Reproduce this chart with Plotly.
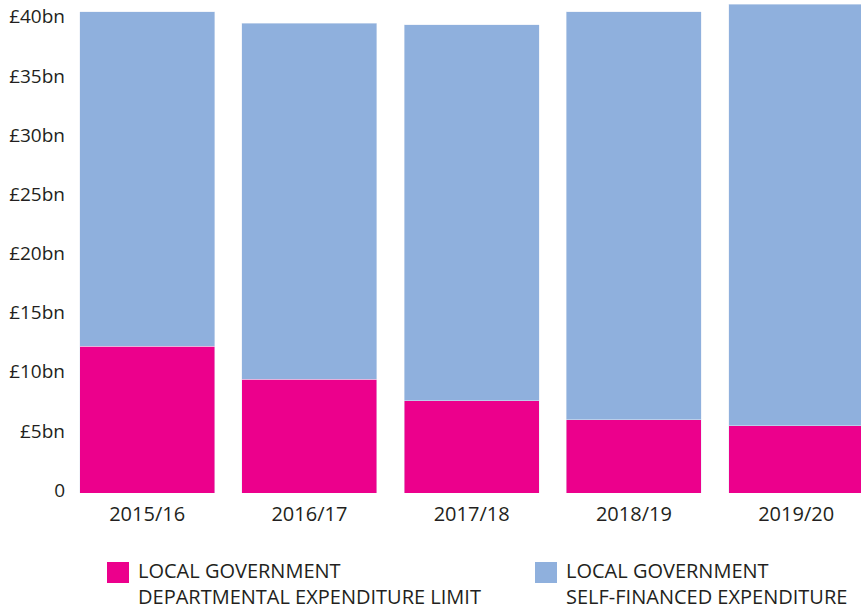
import plotly.graph_objects as go

categories = ["2015/16", "2016/17", "2017/18", "2018/19", "2019/20"]
del_values = [12.4, 9.6, 7.8, 6.2, 5.7]
self_financed_values = [28.3, 30.1, 31.8, 34.5, 35.6]
tick_values = [0, 5, 10, 15, 20, 25, 30, 35, 40]
tick_labels = ["0", "£5bn", "£10bn", "£15bn", "£20bn", "£25bn", "£30bn", "£35bn", "£40bn"]
series_names = ["LOCAL GOVERNMENT<br>DEPARTMENTAL EXPENDITURE LIMIT",
                "LOCAL GOVERNMENT<br>SELF-FINANCED EXPENDITURE"]

PINK = "#EC008C"
BLUE = "#8FB0DD"
TEXT = "#231F20"
FONT = "Open Sans"

fig = go.Figure()
fig.add_trace(go.Bar(x=categories, y=del_values, marker_color=PINK,
                     name=series_names[0], showlegend=False))
fig.add_trace(go.Bar(x=categories, y=self_financed_values, marker_color=BLUE,
                     name=series_names[1], showlegend=False))

W, H = 861, 611
ML, MR, MT, MB = 66, 0, 0, 118
pw = W - ML - MR
ph = H - MT - MB

def px_x(p):
    return (p - ML) / pw

def px_y(p):
    return (H - MB - p) / ph

# custom legend
swatches = [(107, 129, PINK), (535, 557, BLUE)]
text_x = [137, 565]
shapes = []
annotations = []
for (x0, x1, col), tx, name in zip(swatches, text_x, series_names):
    shapes.append(dict(type="rect", xref="paper", yref="paper",
                       x0=px_x(x0), x1=px_x(x1), y0=px_y(583), y1=px_y(562),
                       fillcolor=col, line=dict(width=0)))
    annotations.append(dict(xref="paper", yref="paper", x=px_x(tx), y=px_y(556),
                            xanchor="left", yanchor="top", align="left", text=name,
                            showarrow=False, borderpad=0,
                            font=dict(family=FONT, size=20, color=TEXT)))

fig.update_layout(
    barmode="stack",
    bargap=0.168,
    width=W, height=H,
    margin=dict(l=ML, r=MR, t=MT, b=MB, pad=0),
    plot_bgcolor="white", paper_bgcolor="white",
    font=dict(family=FONT, size=19, color=TEXT),
    shapes=shapes,
    annotations=annotations,
    xaxis=dict(range=[-0.5, -0.5 + pw / 162.25], showgrid=False, zeroline=False,
               showline=False, ticks="", ticklabelstandoff=7,
               tickfont=dict(family=FONT, size=20, color=TEXT)),
    yaxis=dict(range=[0, ph / 11.83], tickvals=tick_values, ticktext=tick_labels,
               showgrid=False, zeroline=False, showline=False, ticks="",
               ticklabelshift=-3,
               tickfont=dict(family=FONT, size=19, color=TEXT)),
)

fig.write_html("out.html", config={"displayModeBar": False},
               post_script="document.body.style.margin='0';")
